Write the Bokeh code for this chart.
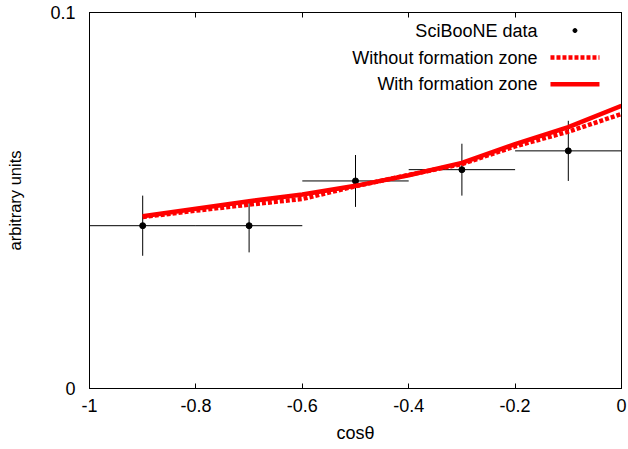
from bokeh.plotting import figure
from bokeh.models import FixedTicker, CustomJSTickFormatter, LinearAxis, Range1d
from bokeh.core.properties import value
from bokeh.embed import file_html
from bokeh.resources import INLINE

# ---- data ----
bin_centers = [-0.9, -0.7, -0.5, -0.3, -0.1]
bin_halfwidth = [0.1, 0.1, 0.1, 0.1, 0.1]
data_y = [0.0433, 0.0433, 0.0552, 0.0582, 0.0632]
data_err = [0.0080, 0.0071, 0.0069, 0.0069, 0.0080]

curve_x = [-0.9, -0.8, -0.7, -0.6, -0.5, -0.4, -0.3, -0.2, -0.1, 0.0]
with_fz = [0.0458, 0.0478, 0.0498, 0.0516, 0.0539, 0.0567, 0.0600, 0.0650, 0.0695, 0.0752]
without_fz = [0.0456, 0.0473, 0.0489, 0.0504, 0.0538, 0.0568, 0.0597, 0.0644, 0.0683, 0.0730]

x_ticks = [-1, -0.8, -0.6, -0.4, -0.2, 0]
y_ticks = [0, 0.1]
legend_labels = ["SciBooNE data", "Without formation zone", "With formation zone"]

# ---- layout constants ----
FONT = "Liberation Sans"
legend_text_x = -0.158
legend_sample_x0 = -0.1335
legend_sample_x1 = -0.0414
legend_rows_y = [0.0952, 0.0880, 0.0809]

p = figure(width=628, height=449, output_backend="svg", toolbar_location=None,
           x_range=Range1d(-1, 0), y_range=Range1d(0, 0.1),
           min_border_left=89, min_border_right=7, min_border_top=12, min_border_bottom=61,
           x_axis_label="cosθ", y_axis_label="arbitrary units")
p.grid.visible = False
p.outline_line_color = "black"
p.outline_line_width = 1
p.background_fill_color = "white"
p.border_fill_color = "white"

fmt = CustomJSTickFormatter(code="return String(Math.round(tick*10)/10);")
for ax in (p.xaxis[0], p.yaxis[0]):
    ax.formatter = fmt
    ax.major_tick_in = 5
    ax.major_tick_out = 0
    ax.minor_tick_line_color = None
    ax.axis_line_color = "black"
    ax.major_tick_line_color = "black"
    ax.major_label_text_font = FONT
    ax.major_label_text_font_size = "18px"
    ax.major_label_text_color = "black"
    ax.axis_label_text_font = FONT
    ax.axis_label_text_font_style = "normal"
    ax.axis_label_text_color = "black"
p.xaxis[0].ticker = FixedTicker(ticks=x_ticks)
p.yaxis[0].ticker = FixedTicker(ticks=y_ticks)
p.xaxis[0].axis_label_text_font_size = "18px"
p.yaxis[0].axis_label_text_font_size = "16.5px"
p.xaxis[0].major_label_standoff = 10
p.xaxis[0].axis_label_standoff = 8
p.yaxis[0].major_label_standoff = 14
p.yaxis[0].axis_label_standoff = 23

blank = CustomJSTickFormatter(code='return "";')
top_ax = LinearAxis(ticker=FixedTicker(ticks=x_ticks), formatter=blank,
                    major_tick_in=5, major_tick_out=0, minor_tick_line_color=None,
                    major_label_text_font_size="0px", major_label_standoff=0,
                    axis_line_color="black", major_tick_line_color="black")
right_ax = LinearAxis(ticker=FixedTicker(ticks=y_ticks), formatter=blank,
                      major_tick_in=5, major_tick_out=0, minor_tick_line_color=None,
                      major_label_text_font_size="0px", major_label_standoff=0,
                      axis_line_color="black", major_tick_line_color="black")
p.add_layout(top_ax, "above")
p.add_layout(right_ax, "right")

# error bars
p.segment(x0=[c - h for c, h in zip(bin_centers, bin_halfwidth)],
          x1=[c + h for c, h in zip(bin_centers, bin_halfwidth)],
          y0=data_y, y1=data_y, line_color="black", line_width=1)
p.segment(x0=bin_centers, x1=bin_centers,
          y0=[y - e for y, e in zip(data_y, data_err)],
          y1=[y + e for y, e in zip(data_y, data_err)],
          line_color="black", line_width=1)
p.scatter(bin_centers, data_y, size=6, color="black")

# model curves
p.line(curve_x, without_fz, line_color="red", line_width=4.5, line_dash="4 2")
p.line(curve_x, with_fz, line_color="red", line_width=4.5)

# legend (gnuplot style: right-aligned text, sample on the right)
p.text(x=[legend_text_x] * 3, y=legend_rows_y, text=legend_labels,
       text_align="right", text_baseline="middle",
       text_font=value(FONT), text_font_size="18px", text_color="black")
p.scatter([(legend_sample_x0 + legend_sample_x1) / 2], [legend_rows_y[0]], size=4, color="black")
p.segment(x0=[legend_sample_x0], x1=[legend_sample_x1], y0=[legend_rows_y[1]], y1=[legend_rows_y[1]],
          line_color="red", line_width=4.5, line_dash="4 2")
p.segment(x0=[legend_sample_x0], x1=[legend_sample_x1], y0=[legend_rows_y[2]], y1=[legend_rows_y[2]],
          line_color="red", line_width=4.5)

open("out.html", "w").write(file_html(p, INLINE))
